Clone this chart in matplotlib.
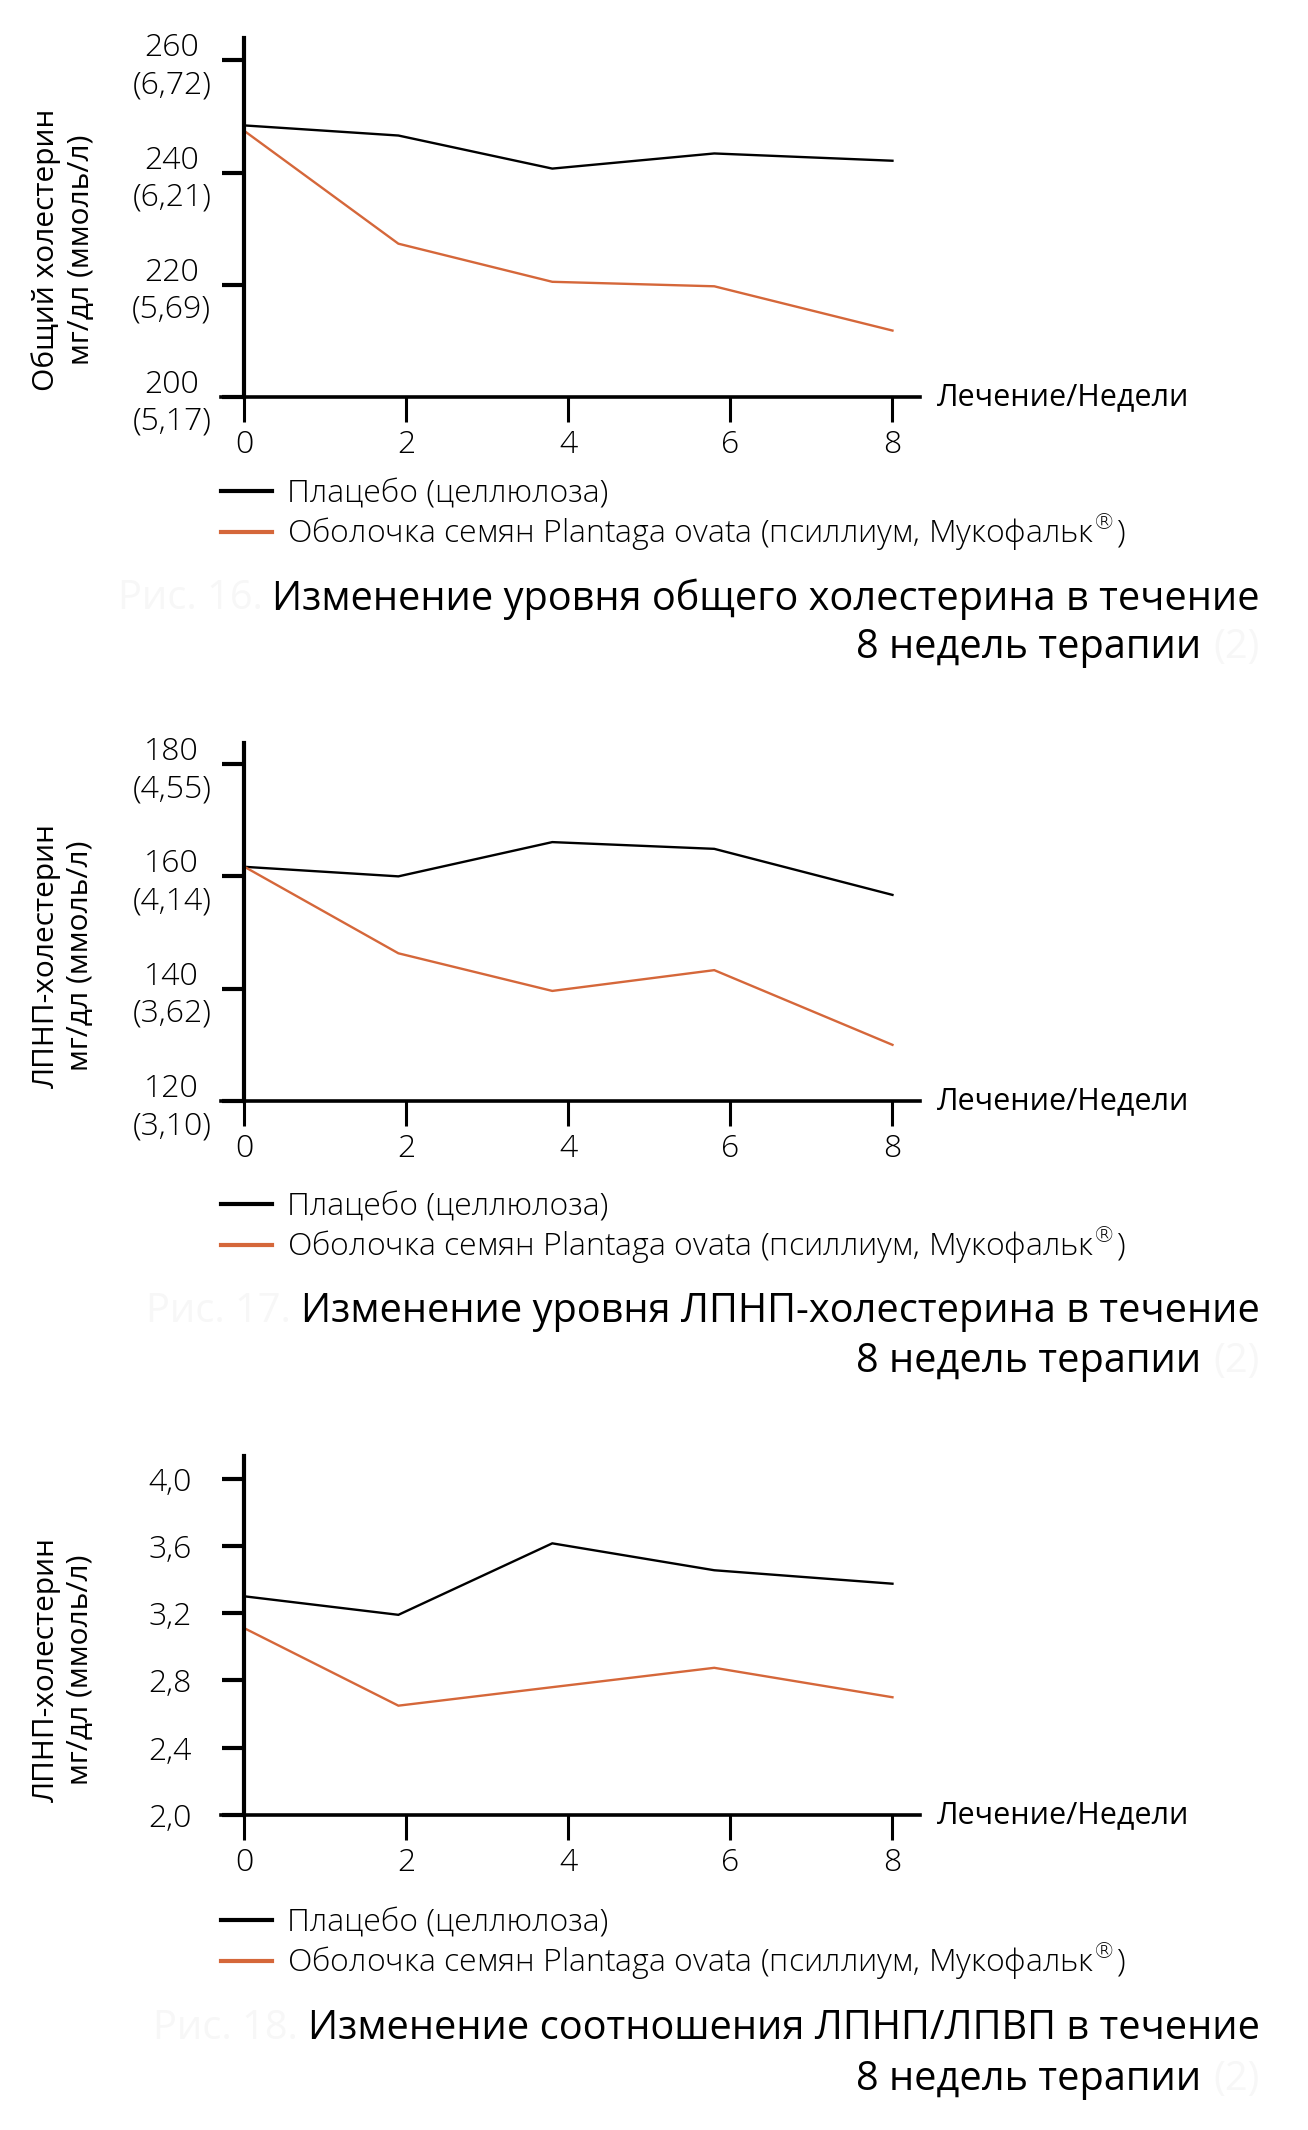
import matplotlib.pyplot as plt

plt.rcParams['font.family'] = ['Open Sans', 'DejaVu Sans']
plt.rcParams['font.weight'] = 'light'

# weeks of treatment (points drawn slightly left of the ticks, as in the original)
weeks = [0, 1.9, 3.8, 5.8, 8.0]
xticks = [0, 2, 4, 6, 8]

# Fig. 16 - total cholesterol, mg/dl
tc_placebo = [248.4, 246.6, 240.7, 243.4, 242.1]
tc_psyllium = [247.4, 227.3, 220.5, 219.7, 211.8]
tc_ticks = [200, 220, 240, 260]
tc_ticklabels = ['200\n(5,17)', '220\n(5,69)', '240\n(6,21)', '260\n(6,72)']

# Fig. 17 - LDL cholesterol, mg/dl
ldl_placebo = [161.7, 160.0, 166.1, 164.9, 156.7]
ldl_psyllium = [161.7, 146.3, 139.6, 143.3, 130.0]
ldl_ticks = [120, 140, 160, 180]
ldl_ticklabels = ['120\n(3,10)', '140\n(3,62)', '160\n(4,14)', '180\n(4,55)']

# Fig. 18 - LDL/HDL ratio
ratio_placebo = [3.30, 3.19, 3.615, 3.455, 3.375]
ratio_psyllium = [3.11, 2.65, 2.76, 2.875, 2.70]
ratio_ticks = [2.0, 2.4, 2.8, 3.2, 3.6, 4.0]
ratio_ticklabels = ['2,0', '2,4', '2,8', '3,2', '3,6', '4,0']

legend_labels = ['Плацебо (целлюлоза)',
                 'Оболочка семян Plantaga ovata (псиллиум, Мукофальк$^{®}$)']
xlabel = 'Лечение/Недели'

BLACK = '#000000'
ORANGE = '#d5673a'
FAINT = '#f7f7f7'
W, H = 1308, 2130

fig = plt.figure(figsize=(W / 100, H / 100), dpi=100)


def make_panel(top_px, bottom_px, ylim, yticks, yticklabels, placebo, psyllium,
               ylabel, ypad, legend_y, ylabel_y):
    left_px, right_px = 221, 920
    ax = fig.add_axes([left_px / W, 1 - bottom_px / H,
                       (right_px - left_px) / W, (bottom_px - top_px) / H])
    ax.plot(weeks, placebo, color=BLACK, lw=1.7, solid_joinstyle='miter')
    ax.plot(weeks, psyllium, color=ORANGE, lw=1.7, solid_joinstyle='miter')
    ax.set_xlim(-0.29, 8.34)
    ax.set_ylim(*ylim)
    for s in ['top', 'right']:
        ax.spines[s].set_visible(False)
    ax.spines['left'].set_position(('data', 0))
    ax.spines['left'].set_linewidth(3)
    ax.spines['bottom'].set_linewidth(2.6)
    ax.set_xticks(xticks)
    ax.set_xticklabels([str(t) for t in xticks])
    ax.set_yticks(yticks)
    ax.set_yticklabels(yticklabels)
    ax.tick_params(axis='y', direction='out', length=16, width=3, pad=ypad,
                   labelsize=23)
    ax.tick_params(axis='x', direction='out', length=18, width=2.2, pad=5,
                   labelsize=23)
    for lbl in ax.get_yticklabels():
        lbl.set_multialignment('center')
        lbl.set_linespacing(1.22)
    ax.set_ylabel(ylabel, fontsize=21.5, va='center', linespacing=1.25)
    ax.yaxis.set_label_coords(-0.225, ylabel_y)
    ax.set_xlabel(xlabel, fontsize=22, ha='left', va='center')
    ax.xaxis.set_label_coords(1.024, 0.0)
    ax.patch.set_visible(False)

    handles = [plt.Line2D([], [], color=BLACK, lw=3),
               plt.Line2D([], [], color=ORANGE, lw=3)]
    ax.legend(handles, legend_labels, loc='center left', frameon=False,
              bbox_to_anchor=(0, 1 - (legend_y - top_px) / (bottom_px - top_px)),
              fontsize=23, handlelength=1.6, handletextpad=0.48,
              labelspacing=0.04, borderpad=0, borderaxespad=0)
    return ax


make_panel(38, 396.7, (200, 264), tc_ticks, tc_ticklabels,
           tc_placebo, tc_psyllium,
           'Общий холестерин\nмг/дл (ммоль/л)', 8, 516, 0.41)
make_panel(742.7, 1101, (120, 183.8), ldl_ticks, ldl_ticklabels,
           ldl_placebo, ldl_psyllium,
           'ЛПНП-холестерин\nмг/дл (ммоль/л)', 8, 1229, 0.405)
make_panel(1455.7, 1815, (2.0, 4.136), ratio_ticks, ratio_ticklabels,
           ratio_placebo, ratio_psyllium,
           'ЛПНП-холестерин\nмг/дл (ммоль/л)', 22, 1945, 0.405)

titles = [
    ('Рис. 16.', 'Изменение уровня общего холестерина в течение', 599, 648),
    ('Рис. 17.', 'Изменение уровня ЛПНП-холестерина в течение', 1312, 1362),
    ('Рис. 18.', 'Изменение соотношения ЛПНП/ЛПВП в течение', 2029, 2080),
]
fig.canvas.draw()
renderer = fig.canvas.get_renderer()
for fig_no, line1, y1, y2 in titles:
    t = fig.text(1260 / W, 1 - y1 / H, line1, ha='right', va='center',
                 fontsize=28.6, color=BLACK, fontweight='normal')
    bb = t.get_window_extent(renderer)
    fig.text((bb.x0 - 10) / W, 1 - y1 / H, fig_no, ha='right', va='center',
             fontsize=28.6, color=FAINT, fontweight='normal')
    fig.text(1201 / W, 1 - y2 / H, '8 недель терапии', ha='right',
             va='center', fontsize=28.6, color=BLACK, fontweight='normal')
    fig.text(1260 / W, 1 - y2 / H, '(2)', ha='right', va='center',
             fontsize=28.6, color=FAINT, fontweight='normal')

fig.savefig('out.png', dpi=100, facecolor='white')
